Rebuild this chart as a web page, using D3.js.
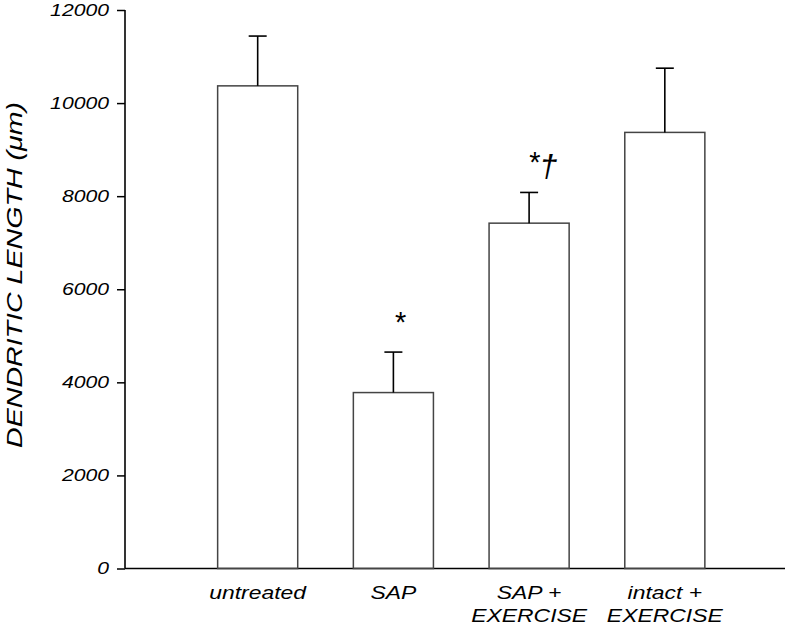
<!DOCTYPE html>
<html>
<head>
<meta charset="utf-8">
<script src="https://cdn.jsdelivr.net/npm/d3@7"></script>
<style>
  body { margin: 0; background: #fff; }
  text { font-family: "Liberation Sans", Arial, sans-serif; font-style: italic; fill: #000; }
</style>
</head>
<body>
<svg id="chart" width="800" height="630"></svg>
<script>
// data
const categories = ["untreated", "SAP", "SAP+EXERCISE", "intact+EXERCISE"];
const labelLines = [["untreated"], ["SAP"], ["SAP +", "EXERCISE"], ["intact +", "EXERCISE"]];
const means = [10370, 3780, 7420, 9370];
const errTops = [11440, 4650, 8080, 10750];
const stars = ["", "*", "*", ""];
const daggers = ["", "", "\u2020", ""];
const yTicks = [0, 2000, 4000, 6000, 8000, 10000, 12000];

const stretch = 1.3; // original lettering is a wide Helvetica

const svg = d3.select("#chart");
svg.selectAll("*").remove();

const axisX = 125, baseY = 568.5, topY = 10, rightX = 785;

const x = d3.scaleBand()
    .domain(categories)
    .range([190.5, 732])
    .paddingInner(0.41)
    .paddingOuter(0.2);

const y = d3.scaleLinear()
    .domain([0, 12000])
    .range([baseY, topY]);

// y axis
const yAxis = svg.append("g")
    .attr("transform", `translate(${axisX},0)`)
    .call(d3.axisLeft(y).tickValues(yTicks).tickSize(8).tickFormat(d3.format("d")));
yAxis.select(".domain").attr("stroke", "#000").attr("stroke-width", 1.6)
    .attr("d", `M0,${baseY}V${topY}`);
yAxis.selectAll(".tick line").attr("stroke", "#000").attr("stroke-width", 1.5);
yAxis.selectAll(".tick text")
    .attr("x", null)
    .attr("transform", `translate(-16,0) scale(${stretch},1)`)
    .style("font-size", "16.3px")
    .style("font-family", "'Liberation Sans', Arial, sans-serif");

// x axis line (no ticks)
svg.append("line")
    .attr("x1", axisX).attr("x2", rightX)
    .attr("y1", baseY).attr("y2", baseY)
    .attr("stroke", "#000").attr("stroke-width", 1.6);

// bars
svg.append("g").selectAll("rect")
    .data(categories)
    .join("rect")
    .attr("x", d => x(d))
    .attr("y", (d, i) => y(means[i]))
    .attr("width", x.bandwidth())
    .attr("height", (d, i) => y(0) - y(means[i]))
    .attr("fill", "none")
    .attr("stroke", "#444")
    .attr("stroke-width", 1.5);

// error bars (upper only)
const eb = svg.append("g").attr("stroke", "#000").attr("stroke-width", 1.6);
categories.forEach((c, i) => {
    const cx = x(c) + x.bandwidth() / 2;
    eb.append("line").attr("x1", cx).attr("x2", cx)
        .attr("y1", y(means[i])).attr("y2", y(errTops[i]));
    eb.append("line").attr("x1", cx - 9).attr("x2", cx + 9)
        .attr("y1", y(errTops[i])).attr("y2", y(errTops[i]));
});

// significance marks
categories.forEach((c, i) => {
    if (!stars[i]) return;
    const cx = x(c) + x.bandwidth() / 2;
    const t = svg.append("text")
        .attr("x", daggers[i] ? cx - 1 : cx + 6)
        .attr("y", y(errTops[i]) - 20)
        .attr("text-anchor", daggers[i] ? "start" : "middle")
        .style("font-size", "29px");
    t.append("tspan").text(stars[i]);
    if (daggers[i]) {
        t.append("tspan").attr("dy", 5)
            .style("font-size", "32px").text(daggers[i]);
    }
});

// category labels
categories.forEach((c, i) => {
    const cx = x(c) + x.bandwidth() / 2;
    labelLines[i].forEach((line, j) => {
        svg.append("g")
            .attr("transform", `translate(${cx},${599 + j * 23}) scale(${stretch * 0.98},1)`)
            .append("text")
            .attr("text-anchor", "middle")
            .style("font-size", "18px")
            .text(line);
    });
});

// y axis title
svg.append("g")
    .attr("transform", `translate(22,275) rotate(-90) scale(${stretch},1)`)
    .append("text")
    .attr("text-anchor", "middle")
    .style("font-size", "22px")
    .text("DENDRITIC LENGTH (\u03BCm)");
</script>
</body>
</html>
